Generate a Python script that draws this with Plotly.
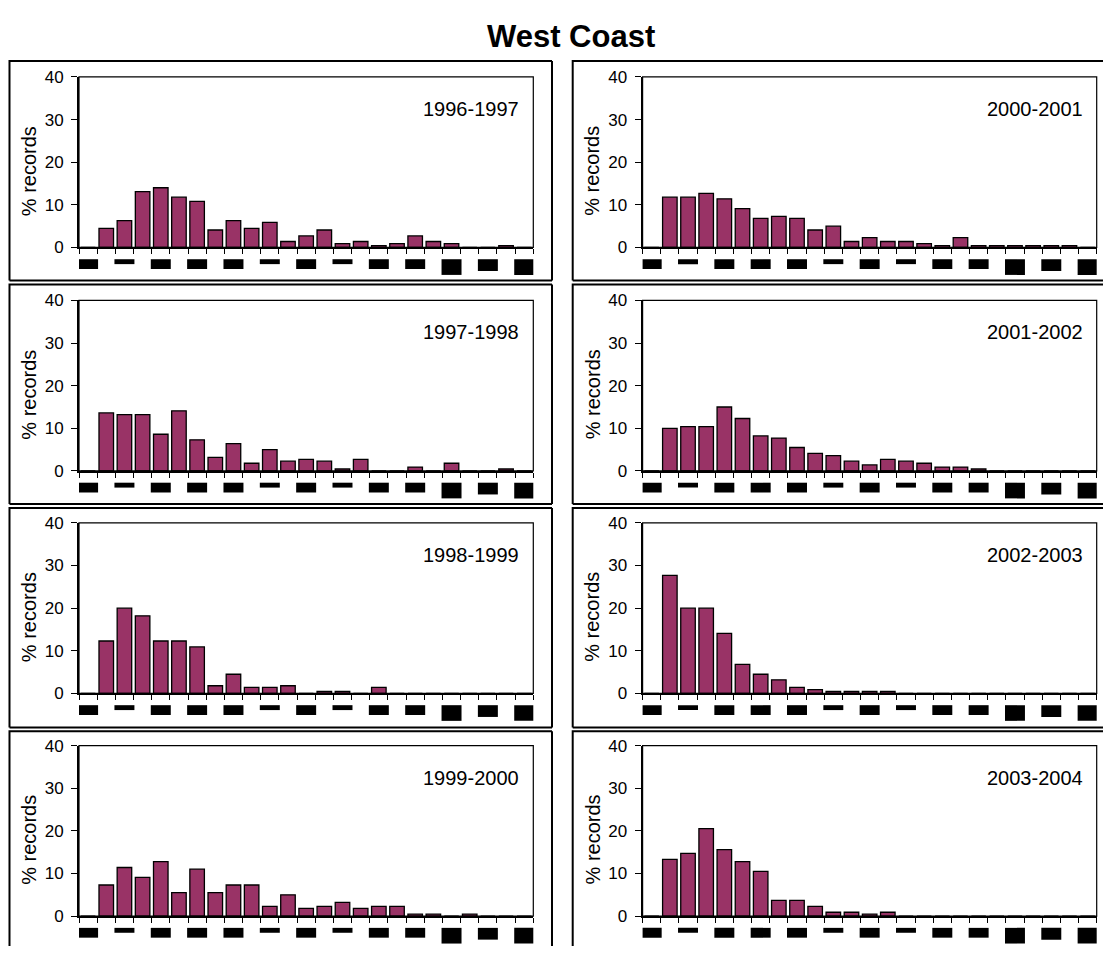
import plotly.graph_objects as go

W, H = 1103, 956

# ---- data -------------------------------------------------------------
bins = list(range(25))                 # size-class bins along the x axis
label_bins = list(range(0, 25, 2))     # bins carrying a (blacked-out) label
y_ticks = [0, 10, 20, 30, 40]

seasons_left = ["1996-1997", "1997-1998", "1998-1999", "1999-2000"]
seasons_right = ["2000-2001", "2001-2002", "2002-2003", "2003-2004"]

pct_1996_1997 = [0, 4.5, 6.3, 13.1, 14.0, 11.8, 10.8, 4.1, 6.3, 4.5, 5.9, 1.4, 2.7,
                 4.1, 0.9, 1.4, 0.45, 0.9, 2.7, 1.4, 0.9, 0, 0, 0.45, 0]
pct_1997_1998 = [0, 13.6, 13.2, 13.2, 8.6, 14.1, 7.3, 3.2, 6.4, 1.8, 5.0, 2.3, 2.7,
                 2.3, 0.45, 2.7, 0, 0, 0.9, 0, 1.8, 0, 0, 0.45, 0]
pct_1998_1999 = [0, 12.3, 20.0, 18.2, 12.3, 12.3, 10.9, 1.8, 4.5, 1.4, 1.4, 1.8, 0,
                 0.45, 0.45, 0, 1.4, 0, 0, 0, 0, 0, 0, 0, 0]
pct_1999_2000 = [0, 7.3, 11.4, 9.1, 12.8, 5.5, 11.0, 5.5, 7.3, 7.3, 2.3, 5.0, 1.8,
                 2.3, 3.2, 1.8, 2.3, 2.3, 0.45, 0.45, 0, 0.45, 0, 0, 0]
pct_2000_2001 = [0, 11.8, 11.8, 12.7, 11.4, 9.1, 6.8, 7.3, 6.8, 4.1, 5.0, 1.4, 2.3,
                 1.4, 1.4, 0.9, 0.45, 2.3, 0.45, 0.45, 0.45, 0.45, 0.45, 0.45, 0]
pct_2001_2002 = [0, 10.0, 10.4, 10.4, 15.0, 12.3, 8.2, 7.7, 5.5, 4.1, 3.6, 2.3, 1.4,
                 2.7, 2.3, 1.8, 0.9, 0.9, 0.45, 0, 0, 0, 0, 0, 0]
pct_2002_2003 = [0, 27.7, 20.0, 20.0, 14.1, 6.8, 4.5, 3.2, 1.4, 0.9, 0.45, 0.45, 0.45,
                 0.45, 0, 0, 0, 0, 0, 0, 0, 0, 0, 0, 0]
pct_2003_2004 = [0, 13.3, 14.7, 20.5, 15.6, 12.8, 10.5, 3.7, 3.7, 2.3, 0.9, 0.9, 0.45,
                 0.9, 0, 0, 0, 0, 0, 0, 0, 0, 0, 0, 0]

left_values = [pct_1996_1997, pct_1997_1998, pct_1998_1999, pct_1999_2000]
right_values = [pct_2000_2001, pct_2001_2002, pct_2002_2003, pct_2003_2004]

# ---- styling ----------------------------------------------------------
FONT = "Liberation Sans, Arial, sans-serif"
BAR_COLOR = "#993366"
label_block_heights = [10, 5, 10, 10, 10, 5, 10, 5, 10, 10, 16, 12, 16]  # px

plot_x = [(79.0, 533.3), (642.6, 1096.7)]        # plot-area left/right, px
plot_tops = [69.3, 297.3, 524.3, 751.5]           # plot-area tops, px
PLOT_H = 174.0
box_x = [(9.5, 552.0), (572.7, 1110.0)]
box_y = [(53.0, 277.0), (281.0, 505.0), (509.0, 733.0), (737.0, 965.0)]


def px_x(v):
    return v / W


def px_y(v):
    return 1 - v / H


def box_path(x0, x1, y0, y1):
    """Outline of a panel box; sides falling outside the canvas are left out."""
    segs = []
    xr = min(x1, W)
    yb = min(y1, H)
    segs.append(f"M{px_x(x0):.5f},{px_y(yb):.5f} L{px_x(x0):.5f},{px_y(y0):.5f} "
                f"L{px_x(xr):.5f},{px_y(y0):.5f}")
    if x1 <= W:
        segs.append(f"M{px_x(x1):.5f},{px_y(y0):.5f} L{px_x(x1):.5f},{px_y(yb):.5f}")
    if y1 <= H:
        segs.append(f"M{px_x(x0):.5f},{px_y(y1):.5f} L{px_x(xr):.5f},{px_y(y1):.5f}")
    return " ".join(segs)


fig = go.Figure()
shapes = []
annotations = []

k = 0
for col, (seasons, values) in enumerate([(seasons_left, left_values),
                                         (seasons_right, right_values)]):
    for row in range(4):
        k += 1
        sfx = "" if k == 1 else str(k)
        xa, ya = "x" + sfx, "y" + sfx
        fig.add_trace(go.Bar(
            x=bins, y=values[row], xaxis=xa, yaxis=ya,
            marker=dict(color=BAR_COLOR, line=dict(color="black", width=1.3)),
            showlegend=False, hoverinfo="x+y",
        ))
        top = plot_tops[row]
        x0, x1 = plot_x[col]
        fig.layout["xaxis" + sfx] = dict(
            domain=[px_x(x0), px_x(x1)], anchor=ya, range=[-0.5, 24.5],
            tickmode="array", tickvals=[b - 0.5 for b in bins] + [24.5],
            showticklabels=False, ticks="outside", ticklen=5, tickwidth=1.3,
            tickcolor="black", showline=True, linecolor="black", linewidth=2,
            showgrid=False, zeroline=False, fixedrange=True,
        )
        fig.layout["yaxis" + sfx] = dict(
            domain=[px_y(top + PLOT_H), px_y(top)], anchor=xa, range=[0, 40],
            tickmode="array", tickvals=y_ticks, ticks="outside", ticklen=6,
            tickwidth=1.3, tickcolor="black", showline=True, linecolor="black",
            linewidth=2, showgrid=False, zeroline=False, fixedrange=True,
            tickfont=dict(family=FONT, size=17, color="black"), ticklabelstandoff=4,
        )
        # thin plot-area frame
        shapes.append(dict(type="rect", xref=xa + " domain", yref=ya + " domain",
                           x0=0, x1=1, y0=0, y1=1, line=dict(color="black", width=1.2),
                           layer="above"))
        # blacked-out category labels under the axis
        for b, h in zip(label_bins, label_block_heights):
            shapes.append(dict(type="rect", xref=xa, yref=ya + " domain",
                               x0=b - 0.55, x1=b + 0.55,
                               y0=-12 / PLOT_H, y1=-(12 + h) / PLOT_H,
                               fillcolor="black", line=dict(width=0)))
        # panel box
        bx0, bx1 = box_x[col]
        by0, by1 = box_y[row]
        shapes.append(dict(type="path", xref="paper", yref="paper",
                           path=box_path(bx0, bx1, by0, by1),
                           line=dict(color="black", width=2)))
        annotations.append(dict(text=seasons[row], xref=xa + " domain", yref=ya + " domain",
                                x=1, y=1, xanchor="right", yanchor="middle",
                                xshift=-12, yshift=-32, showarrow=False,
                                font=dict(family=FONT, size=20, color="black")))
        annotations.append(dict(text="% records", xref=xa + " domain", yref=ya + " domain",
                                x=0, y=0.5, xanchor="center", yanchor="middle",
                                xshift=-50, yshift=-9, textangle=-90, showarrow=False,
                                font=dict(family=FONT, size=20, color="black")))

annotations.append(dict(text="<b>West Coast</b>", xref="paper", yref="paper",
                        x=px_x(571), y=px_y(28), xanchor="center", yanchor="middle",
                        showarrow=False, font=dict(family=FONT, size=31, color="black")))

fig.update_layout(
    width=W, height=H, margin=dict(l=0, r=0, t=0, b=0),
    paper_bgcolor="white", plot_bgcolor="white",
    bargap=0.2, shapes=shapes, annotations=annotations,
    font=dict(family=FONT, color="black"),
)

fig.write_html("out.html", config={"displayModeBar": False},
               post_script="document.body.style.margin='0';"
                           "document.body.style.overflow='hidden';")
